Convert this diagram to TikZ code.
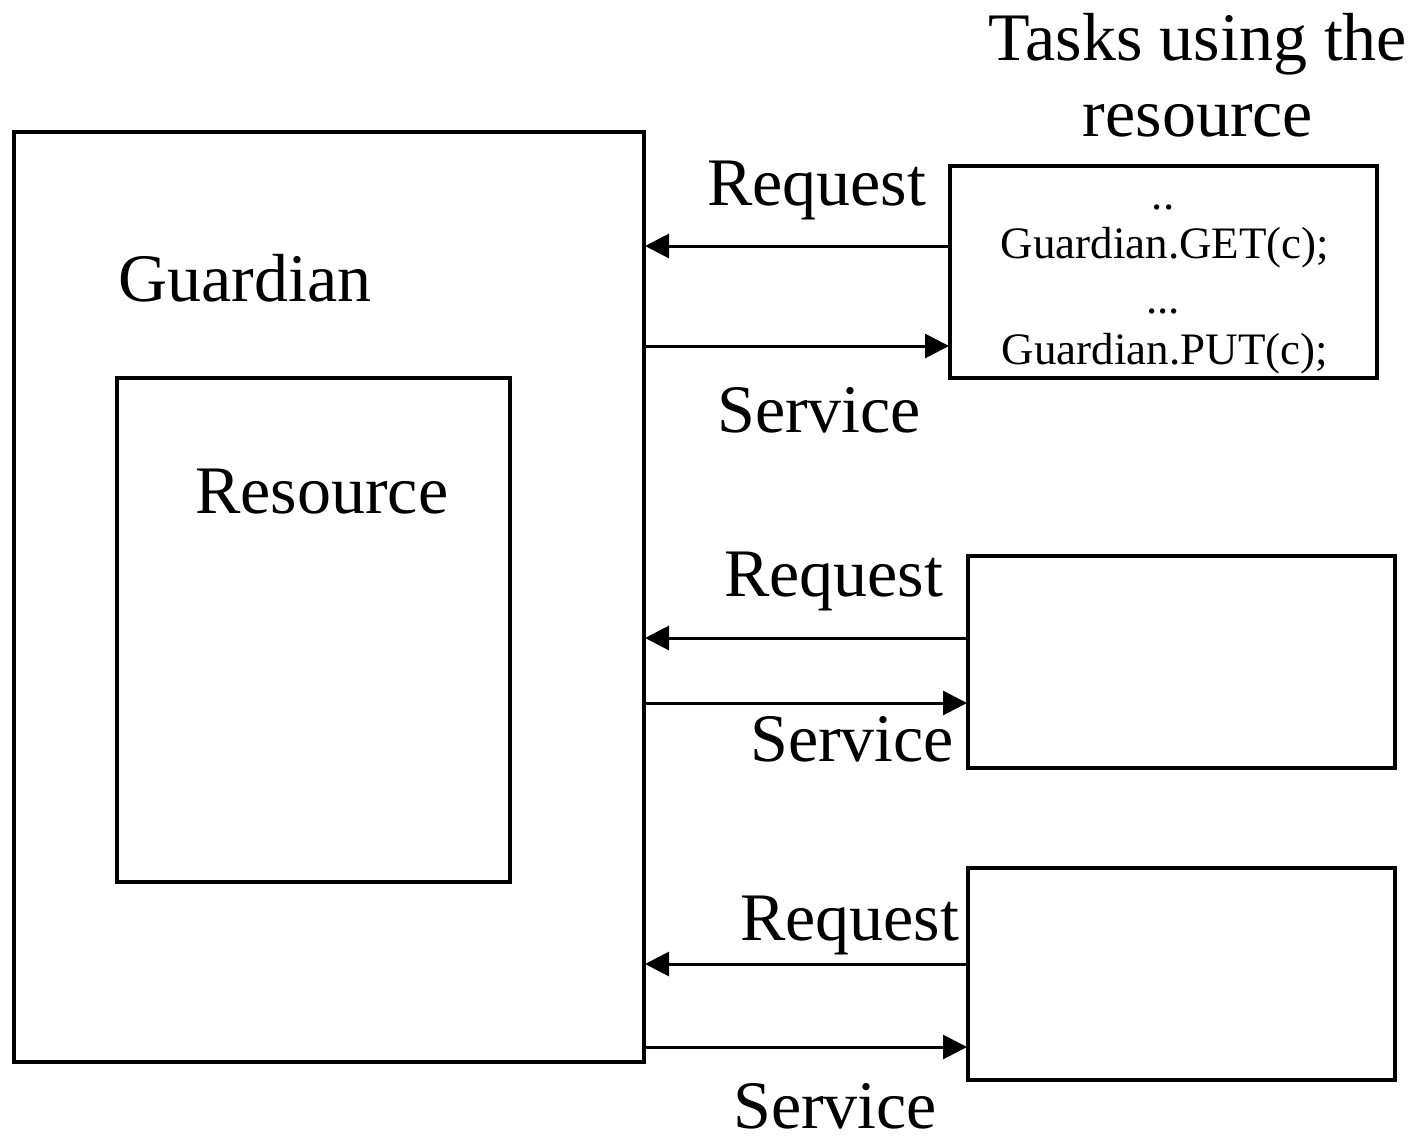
\documentclass[tikz,border=0pt]{standalone}
\usepackage{fontspec}
\setmainfont{Liberation Serif}
\usetikzlibrary{arrows.meta}
\begin{document}
\begin{tikzpicture}[x=1pt,y=-1pt,
  box/.style={draw, line width=3.5pt, inner sep=0pt, outer sep=0pt, anchor=north west},
  arr/.style={line width=3pt, -{Triangle[length=24pt,width=24pt]}, shorten >=1pt},
  big/.style={font=\fontsize{68}{70}\selectfont, inner sep=0pt, anchor=base west},
  small/.style={font=\fontsize{45}{47}\selectfont, inner sep=0pt, anchor=base}]
\useasboundingbox[fill=white] (0,0) rectangle (1416,1140);
% boxes
\node[box, minimum width=630pt, minimum height=930pt] (g) at (14,132) {};
\node[box, minimum width=393pt, minimum height=504pt] (r) at (117,378) {};
\node[box, minimum width=427pt, minimum height=212pt] (t1) at (950,166) {};
\node[box, minimum width=427pt, minimum height=212pt] (t2) at (968,556) {};
\node[box, minimum width=427pt, minimum height=212pt] (t3) at (968,868) {};
% labels
\node[big] (lg) at (118,301) {Guardian};
\node[big] (lr) at (195,513) {Resource};
\node[big, anchor=base] (lt1) at (1198,61) {Tasks using the};
\node[big, anchor=base] (lt2) at (1198,136) {resource};
\node[small] (c1) at (1163,209) {..};
\node[small] (c2) at (1165,258) {Guardian.GET(c);};
\node[small] (c3) at (1163,313) {...};
\node[small] (c4) at (1165,364) {Guardian.PUT(c);};
% arrows
\draw[arr] (t1.west |- 0,246) -- (g.east |- 0,246);
\draw[arr] (g.east |- 0,346) -- (t1.west |- 0,346);
\draw[arr] (t2.west |- 0,638) -- (g.east |- 0,638);
\draw[arr] (g.east |- 0,703) -- (t2.west |- 0,703);
\draw[arr] (t3.west |- 0,964) -- (g.east |- 0,964);
\draw[arr] (g.east |- 0,1047) -- (t3.west |- 0,1047);
% arrow labels
\node[big] (q1) at (707,205) {Request};
\node[big] (s1) at (717,432) {Service};
\node[big] (q2) at (724,596) {Request};
\node[big] (s2) at (750,761) {Service};
\node[big] (q3) at (740,940) {Request};
\node[big] (s3) at (733,1128) {Service};
\end{tikzpicture}
\end{document}
